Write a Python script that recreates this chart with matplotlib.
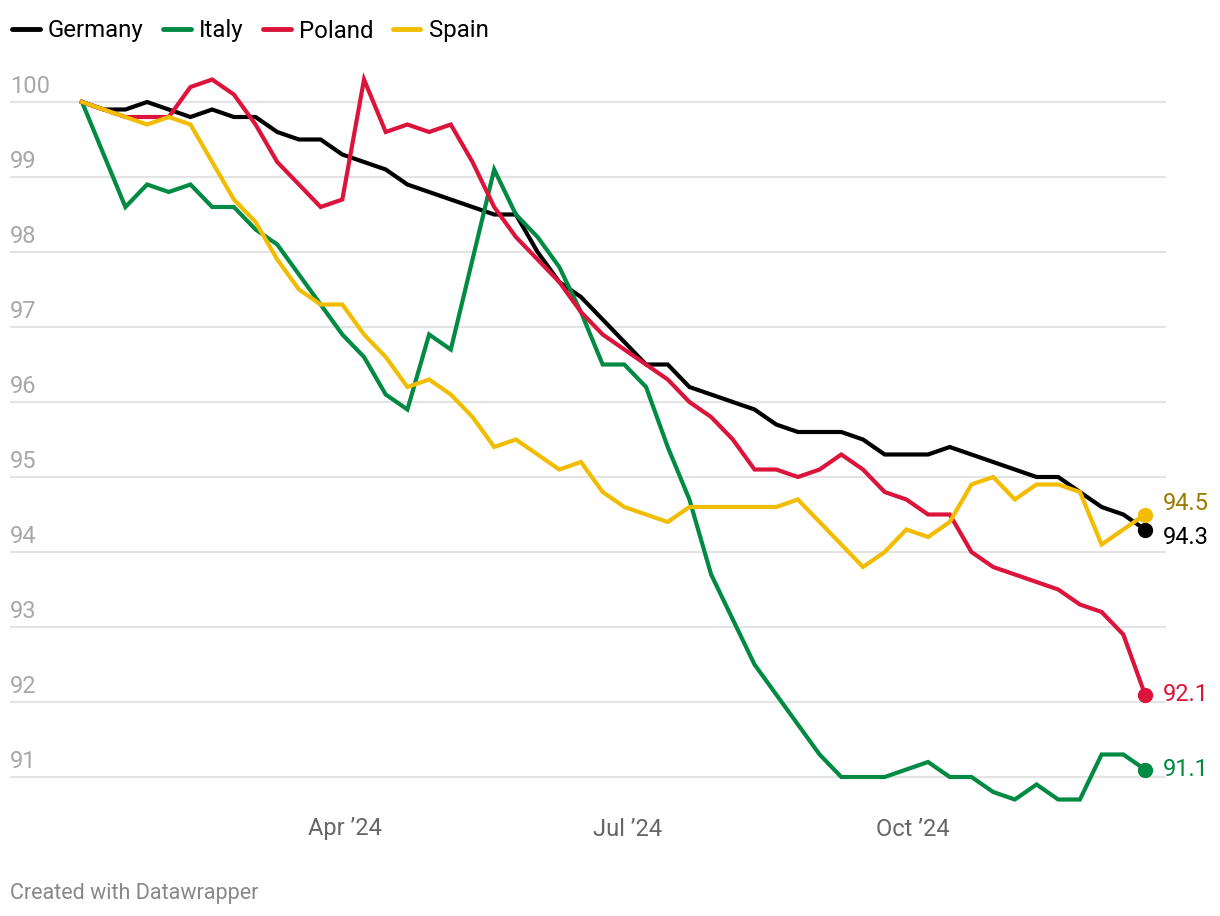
import matplotlib
matplotlib.use("Agg")
from matplotlib import pyplot as plt
from matplotlib.lines import Line2D
import matplotlib.dates as mdates
import pandas as pd
import numpy as np

# weekly index values, Jan 7 2024 -> Dec 15 2024
dates = pd.date_range("2024-01-07", periods=50, freq="7D")

germany = [100.0, 99.9, 99.9, 100.0, 99.9, 99.8, 99.9, 99.8, 99.8, 99.6,
           99.5, 99.5, 99.3, 99.2, 99.1, 98.9, 98.8, 98.7, 98.6, 98.5,
           98.5, 98.0, 97.6, 97.4, 97.1, 96.8, 96.5, 96.5, 96.2, 96.1,
           96.0, 95.9, 95.7, 95.6, 95.6, 95.6, 95.5, 95.3, 95.3, 95.3,
           95.4, 95.3, 95.2, 95.1, 95.0, 95.0, 94.8, 94.6, 94.5, 94.3]
italy = [100.0, 99.3, 98.6, 98.9, 98.8, 98.9, 98.6, 98.6, 98.3, 98.1,
         97.7, 97.3, 96.9, 96.6, 96.1, 95.9, 96.9, 96.7, 97.9, 99.1,
         98.5, 98.2, 97.8, 97.2, 96.5, 96.5, 96.2, 95.4, 94.7, 93.7,
         93.1, 92.5, 92.1, 91.7, 91.3, 91.0, 91.0, 91.0, 91.1, 91.2,
         91.0, 91.0, 90.8, 90.7, 90.9, 90.7, 90.7, 91.3, 91.3, 91.1]
poland = [100.0, 99.9, 99.8, 99.8, 99.8, 100.2, 100.3, 100.1, 99.7, 99.2,
          98.9, 98.6, 98.7, 100.3, 99.6, 99.7, 99.6, 99.7, 99.2, 98.6,
          98.2, 97.9, 97.6, 97.2, 96.9, 96.7, 96.5, 96.3, 96.0, 95.8,
          95.5, 95.1, 95.1, 95.0, 95.1, 95.3, 95.1, 94.8, 94.7, 94.5,
          94.5, 94.0, 93.8, 93.7, 93.6, 93.5, 93.3, 93.2, 92.9, 92.1]
spain = [100.0, 99.9, 99.8, 99.7, 99.8, 99.7, 99.2, 98.7, 98.4, 97.9,
         97.5, 97.3, 97.3, 96.9, 96.6, 96.2, 96.3, 96.1, 95.8, 95.4,
         95.5, 95.3, 95.1, 95.2, 94.8, 94.6, 94.5, 94.4, 94.6, 94.6,
         94.6, 94.6, 94.6, 94.7, 94.4, 94.1, 93.8, 94.0, 94.3, 94.2,
         94.4, 94.9, 95.0, 94.7, 94.9, 94.9, 94.8, 94.1, 94.3, 94.5]

names = ["Germany", "Italy", "Poland", "Spain"]
series = [germany, italy, poland, spain]
colors = ["#000000", "#008a43", "#dc143c", "#f2bd00"]
label_colors = ["#000000", "#008a43", "#dc143c", "#9c7a00"]
label_shift = [-8, 0, 0, 11]  # px, positive = up, so the two close labels don't collide

yticks = [91, 92, 93, 94, 95, 96, 97, 98, 99, 100]
xticks = pd.to_datetime(["2024-04-01", "2024-07-01", "2024-10-01"])
xticklabels = ["Apr \u201924", "Jul \u201924", "Oct \u201924"]

plt.rcParams["font.family"] = ["Roboto", "DejaVu Sans"]

W, H = 1220, 916
fig = plt.figure(figsize=(W / 100, H / 100), dpi=100)
ax_l, ax_r, ax_t, ax_b = 10, 1166, 60, 805
ax = fig.add_axes([ax_l / W, 1 - ax_b / H, (ax_r - ax_l) / W, (ax_b - ax_t) / H])

# scales: 282 px per 91 days, 75 px per index point
px_day = 282 / 91.0
d0 = mdates.date2num(dates[0])
d1 = mdates.date2num(dates[-1])
ax.set_xlim(d0 - (82 - ax_l) / px_day, d1 + (ax_r - 1145) / px_day)
ax.set_ylim(100 - (ax_b - 102) / 75.0, 100 - (ax_t - 102) / 75.0)

for v in yticks:
    ax.axhline(v, color="#e3e3e3", lw=1.5, zorder=0)
    ax.annotate(str(v), xy=(0, v), xycoords=ax.get_yaxis_transform(),
                xytext=(0, 6.5), textcoords="offset points",
                ha="left", va="baseline", fontsize=17, color="#a8a8a8")

for name, vals, c, lc, sh in zip(names, series, colors, label_colors, label_shift):
    ax.plot(dates, vals, color=c, lw=3, solid_joinstyle="miter", zorder=3)
    ax.plot(dates[-1], vals[-1], "o", color=c, ms=10, zorder=4)
    ax.annotate(f"{vals[-1]:.1f}", xy=(dates[-1], vals[-1]),
                xytext=(13, sh * 0.72), textcoords="offset points",
                ha="left", va="center", fontsize=17, color=lc)

ax.set_yticks([])
ax.set_xticks(xticks)
ax.set_xticklabels(xticklabels, fontsize=17, color="#666666")
ax.tick_params(axis="x", length=0, pad=9)
for s in ax.spines.values():
    s.set_visible(False)

handles = [Line2D([0], [0], color=c, lw=3.5, solid_capstyle="round") for c in colors]
fig.legend(handles, names, loc="center left", bbox_to_anchor=(12 / W, 1 - 31 / H),
           ncol=4, frameon=False, fontsize=17.3, handlelength=1.15,
           handletextpad=0.35, columnspacing=0.8, borderpad=0, borderaxespad=0)

fig.text(10 / W, 1 - 894 / H, "Created with Datawrapper", fontsize=15.5,
         color="#888888", ha="left", va="center")

fig.savefig("out.png", dpi=100)
